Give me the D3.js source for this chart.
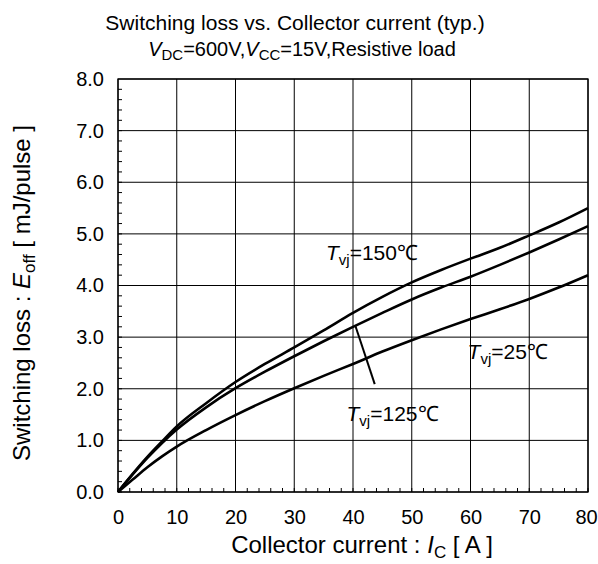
<!DOCTYPE html>
<html><head><meta charset="utf-8">
<script src="https://cdn.jsdelivr.net/npm/d3@7"></script>
<style>
body{margin:0;background:#fff;}
text{font-family:"Liberation Sans",Arial,sans-serif;fill:#000;}
</style></head>
<body><svg id="c" width="598" height="564"></svg>
<script>
const xVals = [0, 2.5, 5, 7.5, 10, 15, 20, 25, 30, 35, 40, 45, 50, 55, 60, 65, 70, 75, 80];
const eoff150 = [0, 0.35, 0.68, 0.98, 1.27, 1.72, 2.13, 2.48, 2.80, 3.13, 3.47, 3.78, 4.06, 4.30, 4.52, 4.73, 4.97, 5.22, 5.50];
const eoff125 = [0, 0.34, 0.66, 0.95, 1.21, 1.64, 2.01, 2.33, 2.63, 2.92, 3.20, 3.47, 3.73, 3.96, 4.17, 4.40, 4.64, 4.89, 5.15];
const eoff25  = [0, 0.24, 0.48, 0.69, 0.88, 1.20, 1.49, 1.76, 2.01, 2.25, 2.48, 2.72, 2.94, 3.15, 3.35, 3.54, 3.74, 3.96, 4.20];
const xTicks = [0, 10, 20, 30, 40, 50, 60, 70, 80];
const yTicks = [0, 1, 2, 3, 4, 5, 6, 7, 8];
const seriesNames = ["150", "125", "25"];

const svg = d3.select("#c");
const L = 118, R = 588, T = 79, B = 492;
const x = d3.scaleLinear().domain([0, 80]).range([L, R]);
const y = d3.scaleLinear().domain([0, 8]).range([B, T]);

// grid
const g = svg.append("g");
g.selectAll(".vg").data(xTicks).join("line")
  .attr("x1", d => x(d)).attr("x2", d => x(d)).attr("y1", T).attr("y2", B)
  .attr("stroke", "#000").attr("stroke-width", 1);
g.selectAll(".hg").data(yTicks).join("line")
  .attr("y1", d => y(d)).attr("y2", d => y(d)).attr("x1", L).attr("x2", R)
  .attr("stroke", "#000").attr("stroke-width", 1);
g.append("rect").attr("x", L).attr("y", T).attr("width", R - L).attr("height", B - T)
  .attr("fill", "none").attr("stroke", "#000").attr("stroke-width", 1.3);

// minor ticks
const xMinor = d3.range(0, 81, 2);
g.selectAll(".xm").data(xMinor).join("line")
  .attr("x1", d => x(d)).attr("x2", d => x(d)).attr("y1", B).attr("y2", B - 4)
  .attr("stroke", "#000").attr("stroke-width", 1);
const yMinor = d3.range(0, 40).map(i => i * 0.2);
g.selectAll(".ym").data(yMinor).join("line")
  .attr("y1", d => y(d)).attr("y2", d => y(d)).attr("x1", L).attr("x2", L + 4)
  .attr("stroke", "#000").attr("stroke-width", 1);

// axes labels
const xAxis = d3.axisBottom(x).tickValues(xTicks).tickSize(0).tickPadding(18).tickFormat(d3.format("d"));
const xa = svg.append("g").attr("transform", `translate(0,${B})`).call(xAxis);
xa.select(".domain").remove();
xa.selectAll("text").attr("font-size", 20).attr("font-family", "Liberation Sans, Arial, sans-serif").attr("fill", "#000");
xa.selectAll(".tick").filter(d => d === 80).select("text").attr("dx", -2);
const yAxis = d3.axisLeft(y).tickValues(yTicks).tickSize(0).tickPadding(14).tickFormat(d3.format(".1f"));
const ya = svg.append("g").attr("transform", `translate(${L},0)`).call(yAxis);
ya.select(".domain").remove();
ya.selectAll("text").attr("font-size", 20).attr("font-family", "Liberation Sans, Arial, sans-serif").attr("fill", "#000");

// curves
const line = d3.line().x((d, i) => x(xVals[i])).y(d => y(d)).curve(d3.curveMonotoneX);
[eoff150, eoff125, eoff25].forEach(s => {
  svg.append("path").attr("d", line(s)).attr("fill", "none")
    .attr("stroke", "#000").attr("stroke-width", 2.6).attr("stroke-linejoin", "round");
});

// pointer line for 125
svg.append("line").attr("x1", x(40.4)).attr("y1", y(3.22)).attr("x2", x(43.7)).attr("y2", y(2.09))
  .attr("stroke", "#000").attr("stroke-width", 2);

// labels
function tvj(xp, yp, temp) {
  const t = svg.append("text").attr("x", xp).attr("y", yp).attr("font-size", 21);
  t.append("tspan").attr("font-style", "italic").text("T");
  t.append("tspan").attr("font-size", 15).attr("dy", 5).text("vj");
  t.append("tspan").attr("dy", -5).text("=" + temp + "\u2103");
}
tvj(x(35.4), y(4.49), seriesNames[0]);
tvj(x(59.5), y(2.58), seriesNames[2]);
tvj(x(38.9), y(1.37), seriesNames[1]);

// titles
svg.append("text").attr("x", 295).attr("y", 30).attr("text-anchor", "middle").attr("font-size", 21)
  .text("Switching loss vs. Collector current (typ.)");
const st = svg.append("text").attr("x", 302).attr("y", 56).attr("text-anchor", "middle").attr("font-size", 20);
st.append("tspan").attr("font-style", "italic").text("V");
st.append("tspan").attr("font-size", 15).attr("dy", 4).text("DC");
st.append("tspan").attr("dy", -4).text("=600V,");
st.append("tspan").attr("font-style", "italic").text("V");
st.append("tspan").attr("font-size", 15).attr("dy", 4).text("CC");
st.append("tspan").attr("dy", -4).text("=15V,Resistive load");

const xl = svg.append("text").attr("x", 362).attr("y", 553).attr("text-anchor", "middle").attr("font-size", 24);
xl.append("tspan").text("Collector current : ");
xl.append("tspan").attr("font-style", "italic").text("I");
xl.append("tspan").attr("font-size", 17).attr("dy", 5).text("C");
xl.append("tspan").attr("dy", -5).text(" [ A ]");

const yl = svg.append("text").attr("transform", "translate(30,293) rotate(-90)").attr("text-anchor", "middle").attr("font-size", 24);
yl.append("tspan").text("Switching loss : ");
yl.append("tspan").attr("font-style", "italic").text("E");
yl.append("tspan").attr("font-size", 17).attr("dy", 5).text("off");
yl.append("tspan").attr("dy", -5).text(" [ mJ/pulse ]");
</script></body></html>
